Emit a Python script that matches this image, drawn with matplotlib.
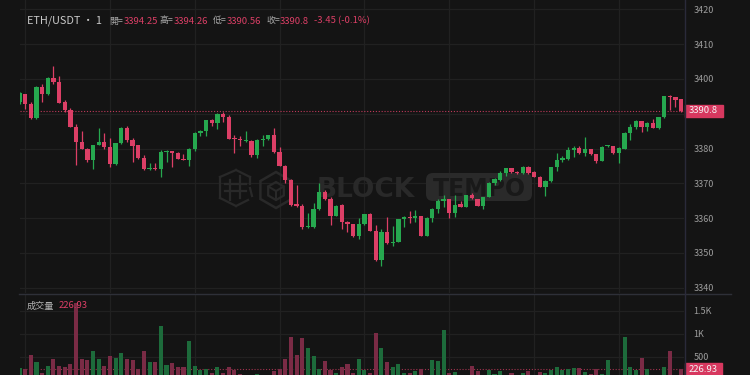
import matplotlib
matplotlib.use('Agg')
import matplotlib.pyplot as plt
import numpy as np
from matplotlib.patches import Rectangle, RegularPolygon, FancyBboxPatch
from matplotlib.lines import Line2D
from matplotlib.transforms import Affine2D, blended_transform_factory

plt.rcParams['font.family'] = ['Noto Sans CJK TC', 'DejaVu Sans']

# ---------------- data ----------------
opens = [3393.5, 3395.6, 3392.7, 3388.9, 3397.7, 3395.6, 3400.3, 3399.2, 3393.3, 3391.0,
         3386.3, 3382.0, 3380.0, 3376.7, 3381.0, 3382.0, 3380.5, 3375.5, 3381.5, 3386.0,
         3382.4, 3381.0, 3377.4, 3374.0, 3374.2, 3374.0, 3378.9, 3379.3, 3378.8, 3377.1,
         3376.7, 3380.0, 3384.4, 3385.1, 3388.1, 3387.2, 3389.9, 3389.1, 3382.7, 3382.5,
         3382.2, 3382.2, 3378.1, 3382.5, 3382.6, 3383.8, 3378.9, 3375.0, 3371.0, 3364.0,
         3363.5, 3357.4, 3357.5, 3362.5, 3367.4, 3365.5, 3360.7, 3363.8, 3359.0, 3358.2,
         3354.9, 3358.3, 3361.1, 3356.4, 3348.0, 3356.1, 3352.8, 3353.2, 3359.7, 3360.4,
         3360.0, 3360.6, 3355.0, 3360.1, 3362.6, 3364.9, 3365.5, 3361.4, 3364.0, 3363.3,
         3366.6, 3365.5, 3363.6, 3366.1, 3370.2, 3371.0, 3373.0, 3374.3, 3373.3, 3373.0,
         3374.8, 3373.2, 3371.9, 3369.0, 3370.7, 3374.6, 3376.7, 3377.0, 3379.6, 3380.1,
         3378.6, 3379.8, 3378.3, 3376.5, 3380.6, 3380.7, 3378.6, 3380.0, 3384.5, 3386.3,
         3387.9, 3386.3, 3387.4, 3386.0, 3389.0, 3395.2, 3394.7, 3394.25]
highs = [3396.3, 3395.8, 3393.4, 3398.0, 3398.5, 3400.5, 3403.7, 3400.8, 3394.0, 3391.5,
         3387.0, 3385.0, 3380.1, 3381.1, 3386.0, 3384.5, 3383.0, 3381.7, 3386.1, 3386.5,
         3383.0, 3381.1, 3378.0, 3375.7, 3375.7, 3379.6, 3379.6, 3379.4, 3378.9, 3378.4,
         3380.1, 3384.6, 3385.2, 3388.2, 3388.5, 3390.3, 3390.4, 3389.6, 3384.0, 3383.7,
         3385.0, 3382.5, 3382.6, 3383.8, 3384.0, 3385.8, 3380.5, 3375.3, 3371.2, 3369.5,
         3364.0, 3361.4, 3364.3, 3370.0, 3368.2, 3366.0, 3363.8, 3364.0, 3359.1, 3358.3,
         3360.0, 3361.2, 3361.4, 3358.0, 3357.0, 3360.4, 3357.7, 3359.8, 3360.5, 3362.0,
         3362.3, 3360.7, 3360.2, 3363.0, 3365.5, 3366.5, 3365.6, 3366.6, 3364.8, 3366.6,
         3367.1, 3365.6, 3366.2, 3370.3, 3371.5, 3373.5, 3374.5, 3374.5, 3373.6, 3375.0,
         3375.0, 3373.4, 3372.0, 3371.0, 3374.8, 3378.6, 3377.9, 3380.3, 3380.6, 3380.7,
         3383.2, 3379.9, 3378.4, 3380.6, 3381.0, 3380.8, 3380.3, 3384.6, 3386.9, 3388.2,
         3388.0, 3387.5, 3388.5, 3389.1, 3395.2, 3395.5, 3394.8, 3394.26]
lows = [3392.7, 3391.4, 3388.6, 3388.4, 3393.4, 3395.4, 3398.5, 3393.0, 3390.5, 3386.2,
        3375.3, 3379.9, 3376.0, 3374.0, 3380.9, 3379.8, 3374.8, 3375.3, 3381.4, 3382.0,
        3376.2, 3377.0, 3373.9, 3373.9, 3373.9, 3371.9, 3376.2, 3374.6, 3376.9, 3376.7,
        3375.0, 3379.3, 3383.5, 3383.5, 3386.5, 3385.6, 3387.7, 3382.6, 3378.8, 3380.7,
        3382.0, 3377.6, 3377.2, 3380.7, 3382.3, 3378.8, 3374.9, 3370.0, 3363.5, 3363.3,
        3357.0, 3357.2, 3357.2, 3362.3, 3365.2, 3358.0, 3360.5, 3356.8, 3356.1, 3354.5,
        3353.9, 3358.0, 3356.3, 3347.8, 3346.3, 3352.6, 3352.0, 3353.0, 3357.4, 3358.5,
        3358.8, 3354.9, 3354.9, 3358.8, 3361.5, 3363.1, 3359.9, 3360.3, 3363.2, 3363.2,
        3365.5, 3363.5, 3362.5, 3366.0, 3369.5, 3370.8, 3372.0, 3373.0, 3372.7, 3372.8,
        3372.8, 3371.8, 3368.8, 3366.4, 3370.5, 3373.6, 3376.2, 3376.8, 3377.5, 3378.4,
        3377.9, 3378.2, 3375.7, 3376.4, 3380.4, 3378.5, 3375.8, 3379.8, 3382.5, 3385.6,
        3384.8, 3385.0, 3385.9, 3385.6, 3388.9, 3391.0, 3391.9, 3390.56]
closes = [3396.0, 3392.7, 3388.9, 3397.7, 3395.6, 3400.3, 3399.1, 3393.2, 3391.0, 3386.3,
          3382.0, 3380.0, 3376.7, 3381.0, 3382.0, 3380.5, 3375.5, 3381.5, 3386.0, 3382.4,
          3380.8, 3377.2, 3374.0, 3374.1, 3374.0, 3379.0, 3379.4, 3378.8, 3377.0, 3376.8,
          3380.0, 3384.5, 3385.1, 3388.1, 3387.2, 3389.9, 3389.0, 3382.7, 3382.6, 3382.4,
          3382.5, 3378.1, 3382.4, 3382.6, 3383.8, 3378.9, 3375.0, 3371.0, 3363.8, 3363.5,
          3357.4, 3357.7, 3362.5, 3367.6, 3365.5, 3360.7, 3363.6, 3359.0, 3358.2, 3354.9,
          3358.3, 3361.1, 3356.4, 3348.0, 3356.1, 3352.8, 3353.2, 3359.7, 3360.4, 3360.0,
          3360.7, 3355.0, 3360.1, 3362.6, 3364.9, 3365.5, 3361.4, 3363.8, 3363.3, 3366.5,
          3365.7, 3363.6, 3366.1, 3370.2, 3371.2, 3373.0, 3374.3, 3373.3, 3373.0, 3374.8,
          3373.0, 3371.9, 3369.0, 3370.7, 3374.6, 3376.7, 3377.4, 3379.6, 3380.1, 3378.6,
          3379.8, 3378.3, 3376.5, 3380.5, 3380.7, 3378.6, 3380.2, 3384.5, 3386.3, 3387.9,
          3386.3, 3387.4, 3386.0, 3389.0, 3395.1, 3394.9, 3393.9, 3390.8]
volumes = [261, 233, 537, 391, 152, 298, 450, 298, 270, 335,
           1670, 450, 422, 624, 450, 298, 515, 465, 580, 450,
           422, 233, 631, 378, 391, 1167, 313, 363, 283, 283,
           848, 290, 204, 233, 152, 276, 138, 269, 218, 130,
           80, 90, 123, 60, 70, 196, 233, 443, 935, 537,
           913, 696, 515, 240, 407, 218, 152, 269, 341, 138,
           443, 211, 138, 1022, 683, 391, 270, 341, 138, 152,
           196, 225, 80, 422, 415, 1080, 152, 160, 90, 80,
           298, 189, 90, 211, 123, 182, 110, 145, 80, 145,
           189, 90, 174, 152, 211, 276, 211, 233, 254, 261,
           160, 123, 233, 123, 428, 90, 80, 922, 270, 211,
           471, 225, 90, 80, 276, 624, 90, 226.93]

price_ticks = [3340, 3350, 3360, 3370, 3380, 3390, 3400, 3410, 3420]
price_tick_labels = ['3340', '3350', '3360', '3370', '3380', '', '3400', '3410', '3420']
vol_ticks = [500, 1000, 1500]
vol_tick_labels = ['500', '1K', '1.5K']
time_grid = [1, 16, 31, 46, 61, 76, 91, 106]

symbol = 'ETH/USDT · 1'
ohlc_names = ['開=', '高=', '低=', '收=']
ohlc_values = ['3394.25', '3394.26', '3390.56', '3390.8']
change_text = '-3.45 (-0.1%)'
volume_name = '成交量'
last_price = 3390.8
last_volume = 226.93

# ---------------- style ----------------
BG = '#141414'
GRID = '#212121'
UP = '#26a84f'
DOWN = '#dc3f66'
VUP = '#1d6b3b'
VDOWN = '#7a2b45'
TXT = '#9c9c9c'

W, H = 750, 375
fig = plt.figure(figsize=(7.5, 3.75), dpi=100, facecolor=BG)
px = Affine2D().scale(1 / 100, -1 / 100).translate(0, H / 100) + fig.dpi_scale_trans


def px_axes(x0, y0, x1, y1):
    a = fig.add_axes([x0 / W, 1 - y1 / H, (x1 - x0) / W, (y1 - y0) / H])
    a.set_facecolor(BG)
    for s in a.spines.values():
        s.set_visible(False)
    return a


L, R = 19.5, 684
step = 5.655
ax = px_axes(L, 0, R, 293)
axv = px_axes(L, 294, R, 375)

n = len(opens)
xs = np.arange(n)
o = np.array(opens); h = np.array(highs); l = np.array(lows); c = np.array(closes)
up = c >= o
cols = np.where(up, UP, DOWN)

ax.vlines(xs, l, h, colors=cols, lw=0.9, zorder=3)
body_lo = np.minimum(o, c)
body_h = np.maximum(np.abs(c - o), 0.3)
ax.bar(xs, body_h, bottom=body_lo, width=0.76, color=cols, lw=0, zorder=4)

xmax = (R - L) / step
ax.set_xlim(0, xmax)
ax.set_ylim(3338.48, 3422.67)
ax.set_yticks(price_ticks)
ax.set_yticklabels(price_tick_labels)
ax.set_xticks(time_grid)
ax.yaxis.tick_right()
ax.tick_params(axis='y', length=0, pad=7, labelsize=6.5, labelcolor=TXT)
ax.tick_params(axis='x', length=0, labelbottom=False)
ax.grid(True, color=GRID, lw=0.9, zorder=0)
ax.set_axisbelow(True)
ax.axhline(last_price, color=DOWN, lw=0.8, ls=(0, (1, 1.6)), alpha=0.85, zorder=2)

# volume
vcols = np.where(up, VUP, VDOWN)
axv.bar(xs, volumes, width=0.72, color=vcols, lw=0, zorder=3)
axv.set_xlim(0, xmax)
axv.set_ylim((379.7 - 375) / 0.046, (379.7 - 294) / 0.046)
axv.set_yticks(vol_ticks)
axv.set_yticklabels(vol_tick_labels)
axv.set_xticks(time_grid)
axv.yaxis.tick_right()
axv.tick_params(axis='y', length=0, pad=7, labelsize=6.5, labelcolor=TXT)
axv.tick_params(axis='x', length=0, labelbottom=False)
axv.grid(True, color=GRID, lw=0.9, zorder=0)
axv.set_axisbelow(True)
axv.axhline(last_volume, color=DOWN, lw=0.8, ls=(0, (1, 1.6)), alpha=0.7, zorder=2)

# separators
fig.add_artist(Line2D([19 / W, 731 / W], [1 - 293.5 / H, 1 - 293.5 / H], color='#2e3038', lw=1.0))
fig.add_artist(Line2D([684.5 / W, 684.5 / W], [0, 1], color='#2a2a3a', lw=1.0))

# last price tag
bt = blended_transform_factory(fig.transFigure, ax.transData)
ax.add_patch(Rectangle((684.5 / W, last_price - 1.75), 38 / W, 3.5, transform=bt,
                       color='#d7385f', clip_on=False, zorder=10))
ax.text(703.5 / W, last_price, f'{last_price}', transform=bt, color='#f4f4f4', fontsize=6.8,
        ha='center', va='center', clip_on=False, zorder=11)
btv = blended_transform_factory(fig.transFigure, axv.transData)
axv.add_patch(Rectangle((685 / W, last_volume - 130), 37 / W, 270, transform=btv,
                        color='#d7385f', clip_on=False, zorder=10))
axv.text(703.5 / W, last_volume, f'{last_volume}', transform=btv, color='#f4f4f4', fontsize=6.8,
         ha='center', va='center', clip_on=False, zorder=11)

# header
renderer = fig.canvas.get_renderer()
fig.text(27 / W, 1 - 21 / H, symbol, color='#c9c9c9', fontsize=7.8, va='center', ha='left')
name_x = [109.5, 160, 213, 266]
for nm, nx, vv in zip(ohlc_names, name_x, ohlc_values):
    t = fig.text(nx / W, 1 - 21 / H, nm, color='#a8a8a8', fontsize=6.4, va='center', ha='left')
    x1 = t.get_window_extent(renderer).x1
    fig.text((x1 + 0.3) / W, 1 - 21 / H, vv, color=DOWN, fontsize=6.8, va='center', ha='left')
fig.text(313.5 / W, 1 - 21 / H, change_text, color=DOWN, fontsize=6.8, va='center', ha='left')
fig.text(27 / W, 1 - 306 / H, volume_name, color='#b0b0b0', fontsize=6.6, va='center', ha='left')
fig.text(59 / W, 1 - 306 / H, f'{last_volume}', color=DOWN, fontsize=6.8, va='center', ha='left')

# watermark
WM = '#292929'
ax.add_patch(RegularPolygon((276, 190), 6, radius=18, orientation=0, transform=px,
                            fill=False, ec=WM, lw=1.8, zorder=1, clip_on=False))
ax.add_patch(RegularPolygon((276, 191), 6, radius=9, orientation=0, transform=px,
                            fill=False, ec=WM, lw=1.6, zorder=1, clip_on=False))
for (x0, y0, x1, y1) in [(276, 191, 276, 200), (276, 191, 268.2, 186.5), (276, 191, 283.8, 186.5)]:
    ax.add_line(Line2D([x0, x1], [y0, y1], transform=px, color=WM, lw=1.5, zorder=1))
for (x0, y0, x1, y1) in [(220, 177, 236, 170), (236, 170, 250, 177), (220, 177, 220, 198),
                         (220, 198, 236, 206), (236, 206, 248, 200), (225, 184, 246, 184),
                         (225, 191, 246, 191), (230, 180, 230, 200), (240, 176, 240, 198),
                         (250, 177, 250, 184), (250, 188, 252, 196)]:
    ax.add_line(Line2D([x0, x1], [y0, y1], transform=px, color=WM, lw=1.6, zorder=1))
ax.text(317, 197, 'BLOCK', transform=px, color=WM, fontsize=19, fontweight='bold',
        family='DejaVu Sans', ha='left', va='baseline', zorder=1)
ax.add_patch(FancyBboxPatch((426, 173), 106, 28, boxstyle='round,pad=0,rounding_size=7',
                            transform=px, fc='#2a2a2a', ec='none', zorder=1, clip_on=False))
ax.text(479, 196.5, 'TEMPO', transform=px, color='#191919', fontsize=17, fontweight='bold',
        family='DejaVu Sans', ha='center', va='baseline', zorder=1)

fig.savefig('out.png', dpi=100, facecolor=BG)
